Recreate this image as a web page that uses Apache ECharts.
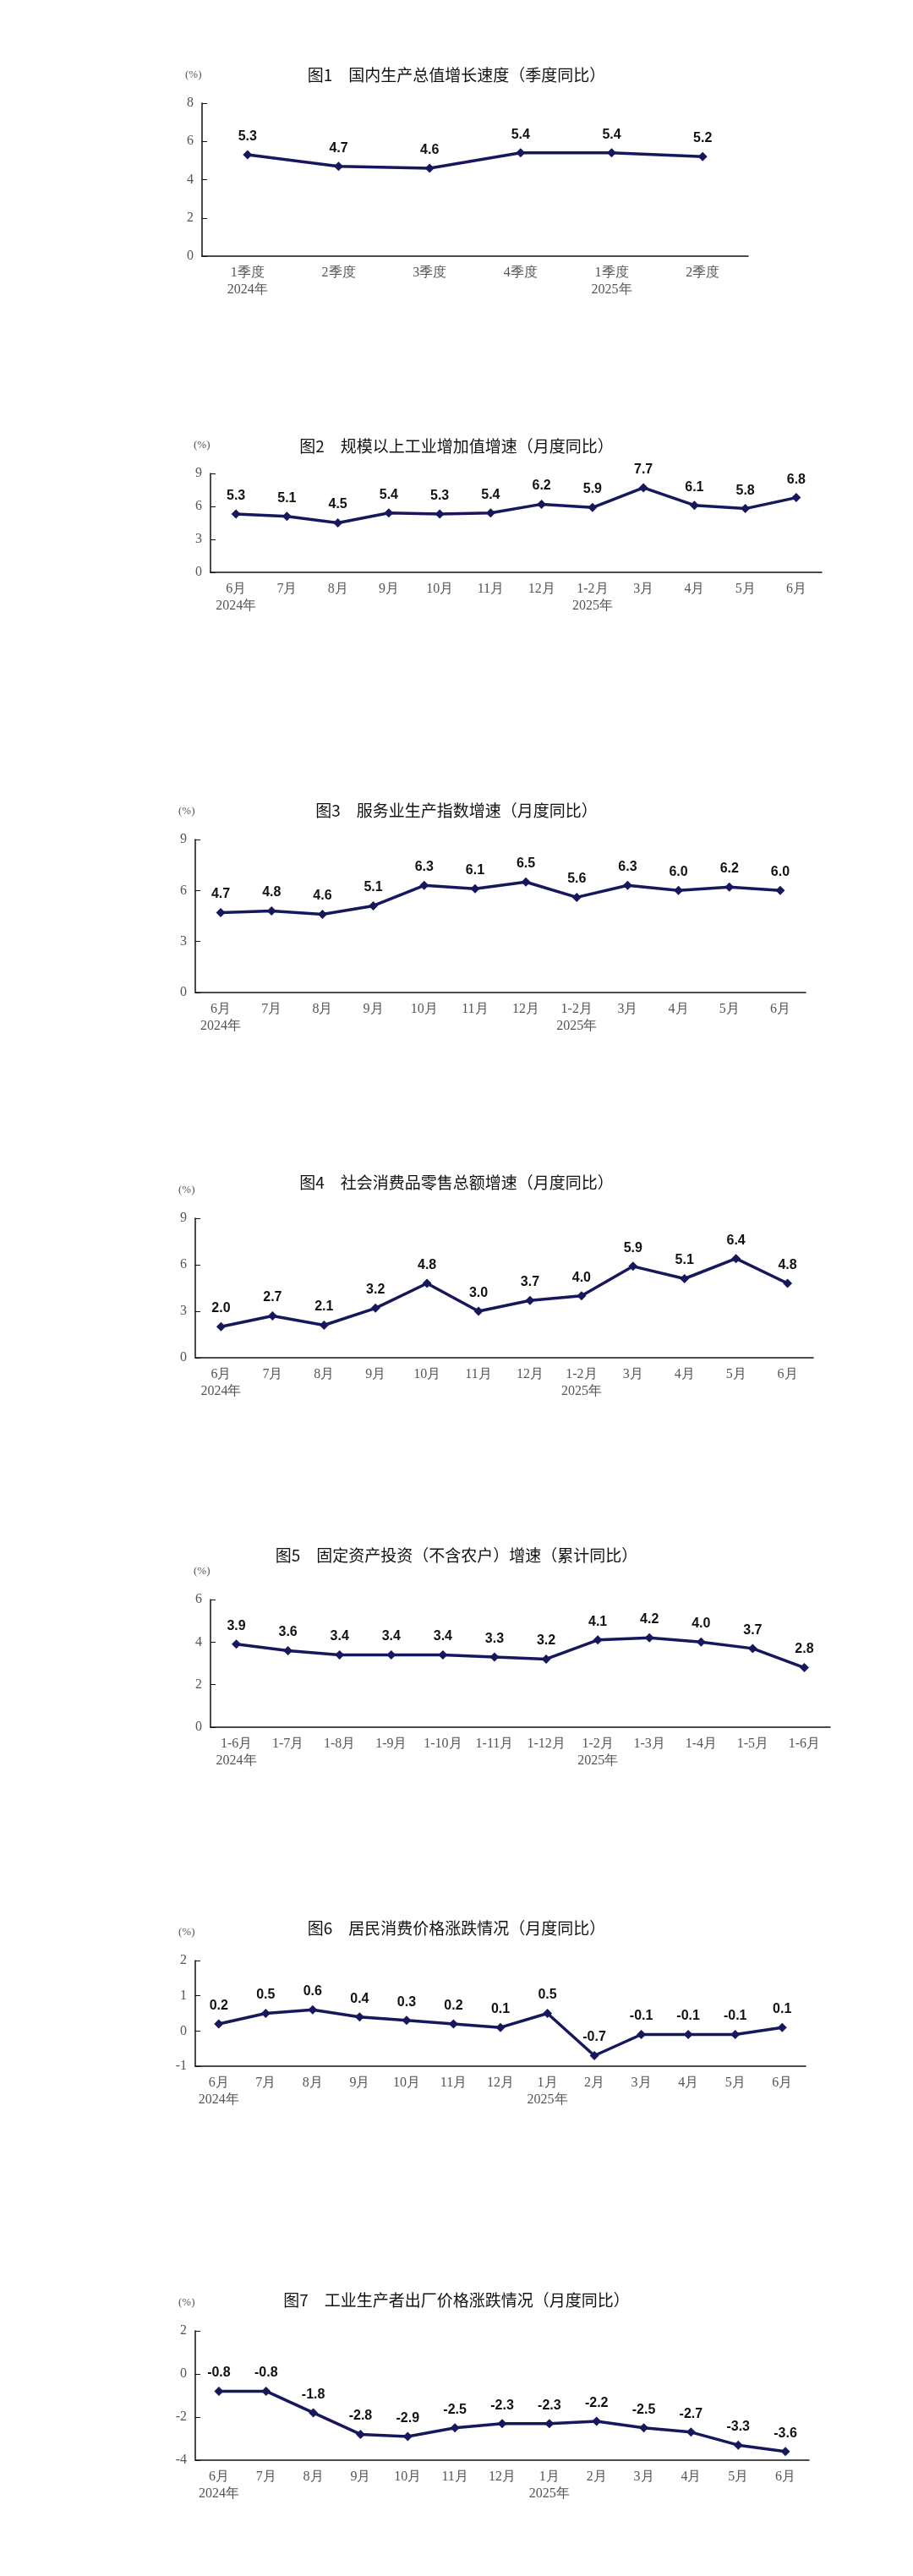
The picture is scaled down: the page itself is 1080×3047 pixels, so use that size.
<!DOCTYPE html>
<html><head><meta charset="utf-8">
<script src="https://cdn.jsdelivr.net/npm/echarts@6/dist/echarts.min.js"></script>
<style>html,body{margin:0;padding:0;background:#fff}#c{width:1080px;height:3047px}</style>
</head><body><div id="c"></div>
<script>
const titles = ['图1　国内生产总值增长速度（季度同比）','图2　规模以上工业增加值增速（月度同比）','图3　服务业生产指数增速（月度同比）','图4　社会消费品零售总额增速（月度同比）','图5　固定资产投资（不含农户）增速（累计同比）','图6　居民消费价格涨跌情况（月度同比）','图7　工业生产者出厂价格涨跌情况（月度同比）'];
const cat1 = ['1季度\n2024年','2季度','3季度','4季度','1季度\n2025年','2季度'];
const catMonthA = ['6月\n2024年','7月','8月','9月','10月','11月','12月','1-2月\n2025年','3月','4月','5月','6月'];
const cat5 = ['1-6月\n2024年','1-7月','1-8月','1-9月','1-10月','1-11月','1-12月','1-2月\n2025年','1-3月','1-4月','1-5月','1-6月'];
const catMonthB = ['6月\n2024年','7月','8月','9月','10月','11月','12月','1月\n2025年','2月','3月','4月','5月','6月'];
const v1 = [5.3,4.7,4.6,5.4,5.4,5.2];
const v2 = [5.3,5.1,4.5,5.4,5.3,5.4,6.2,5.9,7.7,6.1,5.8,6.8];
const v3 = [4.7,4.8,4.6,5.1,6.3,6.1,6.5,5.6,6.3,6.0,6.2,6.0];
const v4 = [2.0,2.7,2.1,3.2,4.8,3.0,3.7,4.0,5.9,5.1,6.4,4.8];
const v5 = [3.9,3.6,3.4,3.4,3.4,3.3,3.2,4.1,4.2,4.0,3.7,2.8];
const v6 = [0.2,0.5,0.6,0.4,0.3,0.2,0.1,0.5,-0.7,-0.1,-0.1,-0.1,0.1];
const v7 = [-0.8,-0.8,-1.8,-2.8,-2.9,-2.5,-2.3,-2.3,-2.2,-2.5,-2.7,-3.3,-3.6];
const yMin = [0,0,0,0,0,-1,-4], yMax = [8,9,9,9,6,2,2], yInt = [2,3,3,3,2,1,2];
const cats = [cat1,catMonthA,catMonthA,catMonthA,cat5,catMonthB,catMonthB];
const vals = [v1,v2,v3,v4,v5,v6,v7];
const S = 0.972;
const L = [[88,126,312,246,910],[540,576,696,256,1000],[984,1022,1208,238,980],[1436,1482,1652,238,990],[1890,1946,2102,256,1010],[2344,2386,2514,238,980],[2796,2836,2994,238,985]].map(r=>r.map(v=>Math.round(v*S)));
const ink = '#16175c';
const serif = 'Liberation Serif, Times New Roman, serif';
const opt = {animation:false, title:[], grid:[], xAxis:[], yAxis:[], series:[], graphic:[]};
L.forEach((l,i)=>{
  const [ty,top,bot,left,right] = l;
  opt.title.push({text:titles[i], left:'center', top:ty-12, textStyle:{fontFamily:'Noto Sans CJK SC',fontWeight:'normal',fontSize:19,color:'#111'}});
  opt.graphic.push({type:'text', left:left-20, top:top-40, style:{text:'(%)', font:'13px '+serif, fill:'#555'}});
  opt.grid.push({left:left, top:top, width:right-left, height:bot-top});
  opt.xAxis.push({type:'category', gridIndex:i, data:cats[i], boundaryGap:true,
    axisLine:{onZero:false, lineStyle:{color:'#111',width:1.5}}, axisTick:{inside:true,length:8,lineStyle:{color:'#111'}},
    axisLabel:{fontFamily:serif, fontSize:16, color:'#555', lineHeight:20, margin:10, interval:0}});
  opt.yAxis.push({type:'value', gridIndex:i, min:yMin[i], max:yMax[i], interval:yInt[i],
    splitLine:{show:false}, axisLine:{show:true, lineStyle:{color:'#111',width:1.5}},
    axisTick:{show:true,inside:true,length:6,lineStyle:{color:'#111'}},
    axisLabel:{fontFamily:serif, fontSize:16, color:'#555', margin:10}});
  opt.series.push({type:'line', xAxisIndex:i, yAxisIndex:i, data:vals[i], symbol:'diamond', symbolSize:11,
    lineStyle:{color:ink,width:3.5}, itemStyle:{color:ink},
    label:{show:true, position:'top', distance:8, fontFamily:'Liberation Sans, Arial', fontWeight:'bold', fontSize:16, color:'#111',
      formatter:p=>p.value.toFixed(1)}});
});
const ch = echarts.init(document.getElementById('c'), null, {renderer:'canvas'});
ch.setOption(opt);
</script></body></html>
